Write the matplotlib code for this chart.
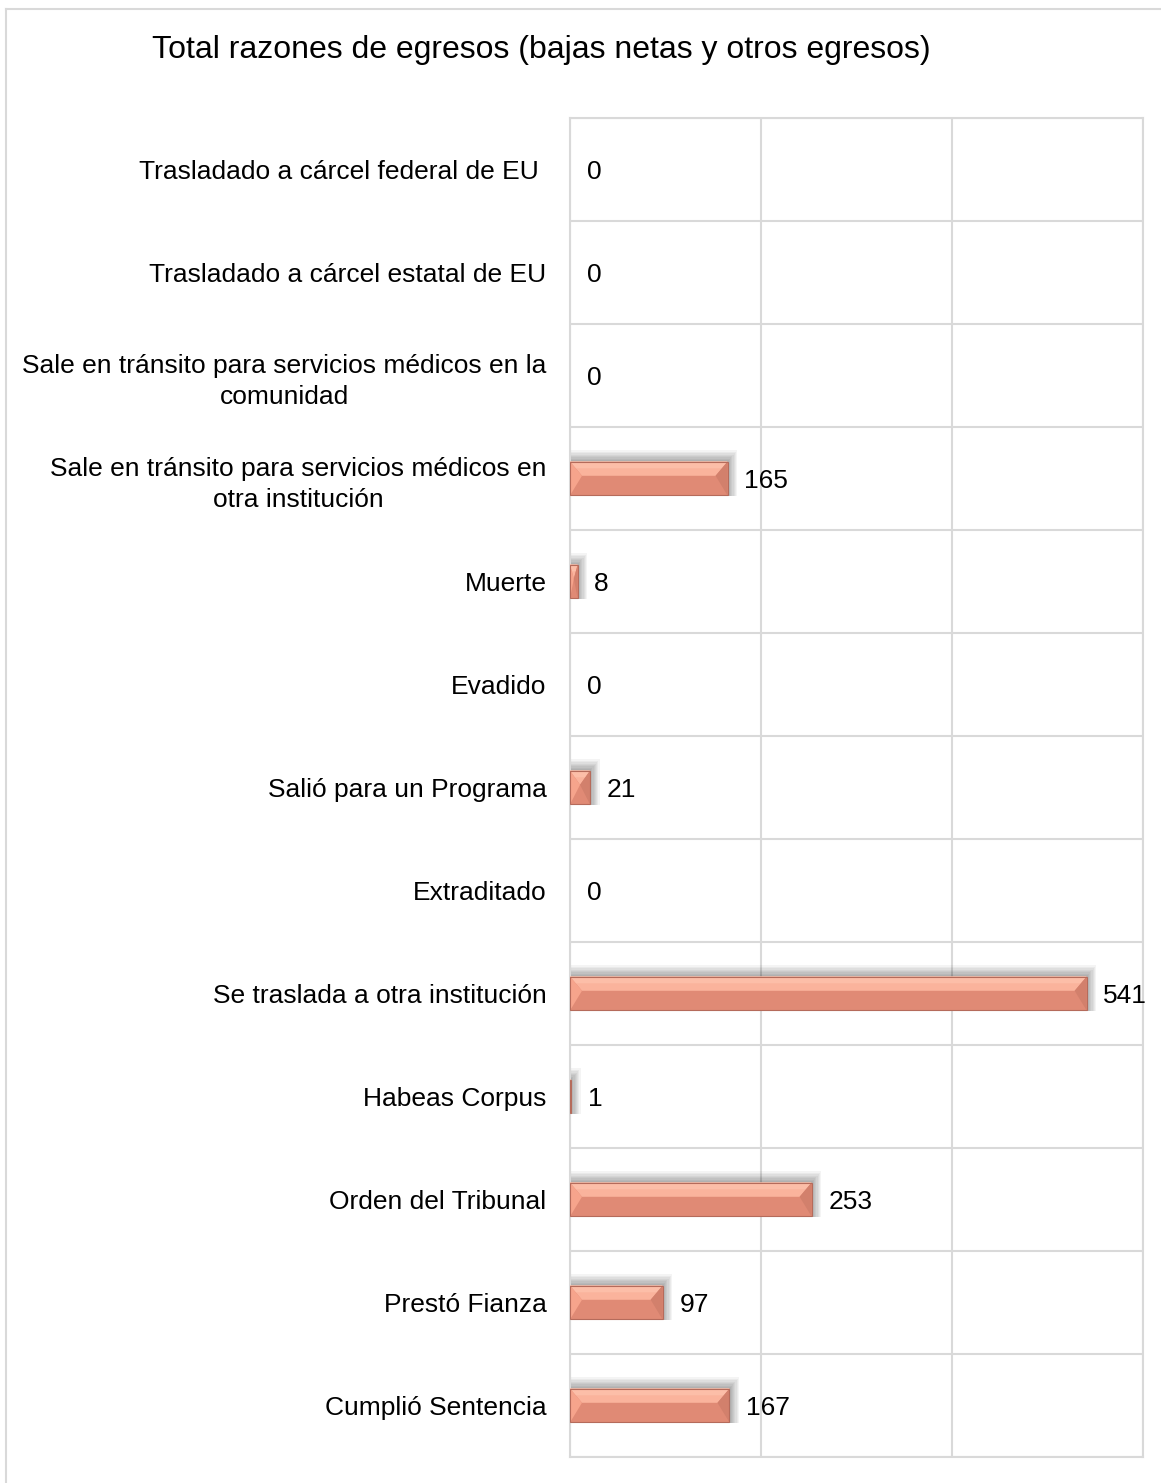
import numpy as np
import matplotlib.pyplot as plt
from matplotlib.patches import Polygon, Rectangle
from matplotlib.lines import Line2D

plt.rcParams['font.family'] = ['Liberation Sans', 'DejaVu Sans']

# data, top to bottom as in the chart
categories = [
    "Trasladado a cárcel federal de EU ",
    "Trasladado a cárcel estatal de EU",
    "Sale en tránsito para servicios médicos en la\ncomunidad",
    "Sale en tránsito para servicios médicos en\notra institución",
    "Muerte",
    "Evadido",
    "Salió para un Programa",
    "Extraditado",
    "Se traslada a otra institución",
    "Habeas Corpus",
    "Orden del Tribunal",
    "Prestó Fianza",
    "Cumplió Sentencia",
]
values = [0, 0, 0, 165, 8, 0, 21, 0, 541, 1, 253, 97, 167]
title = "Total razones de egresos (bajas netas y otros egresos)"

W, H, dpi = 1161, 1483, 100
fig = plt.figure(figsize=(W / dpi, H / dpi), dpi=dpi)
ax = fig.add_axes([570 / W, 1 - 1457 / H, (1143 - 570) / W, (1457 - 118) / H])

n = len(categories)
y = np.arange(n)
bar_h = 0.33
xmax = 600

ax.set_xlim(0, xmax)
ax.set_ylim(n - 0.5, -0.5)

# units per pixel, for bevel / shadow sizes
upx = xmax / (1143 - 570)
upy = n / (1457 - 118)

for yi, v in zip(y, values):
    if v <= 0:
        continue
    y0, y1 = yi - bar_h / 2, yi + bar_h / 2
    # soft shadow, pushed up and to the right
    for k in range(8, 0, -1):
        ax.add_patch(Rectangle((0, y0 - k * 1.4 * upy), v + k * 1.2 * upx,
                               bar_h + k * 1.5 * upy, color='#000000', alpha=0.045,
                               lw=0, zorder=2))
    bev = min(12 * upx, v / 2)
    ymid = yi - bar_h * 0.08
    # base (darker lower part)
    ax.barh(yi, v, height=bar_h, color='#E08A75', lw=0, zorder=3)
    # light top band
    ax.add_patch(Polygon([(0, y0), (v, y0), (v - bev, ymid), (bev, ymid)],
                         closed=True, color='#FAB39C', lw=0, zorder=4))
    ax.add_patch(Polygon([(0, y0), (v, y0), (v - bev * 0.5, y0 + bar_h * 0.2),
                          (bev * 0.5, y0 + bar_h * 0.2)],
                         closed=True, color='#FCBEA8', lw=0, zorder=4))
    # left bevel
    ax.add_patch(Polygon([(0, y0), (bev, ymid), (0, y1)],
                         closed=True, color='#F6A48C', lw=0, zorder=4))
    # right bevel
    ax.add_patch(Polygon([(v, y0), (v - bev, ymid), (v, y1)],
                         closed=True, color='#D2806C', lw=0, zorder=4))
    ax.add_patch(Rectangle((0, y0), v, bar_h, fill=False, edgecolor='#B56B5B',
                           lw=0.8, zorder=5))

# value labels
for yi, v in zip(y, values):
    ax.annotate(str(v), (v, yi), xytext=(12, 0), textcoords='offset points',
                ha='left', va='center_baseline', fontsize=19, color='black', zorder=6)

ax.set_yticks(y)
ax.set_yticklabels(categories, fontsize=19, multialignment='center', linespacing=1.35)
ax.set_xticks([0, 200, 400, 600])
ax.set_xticklabels([])
ax.set_yticks(np.arange(-0.5, n), minor=True)
ax.tick_params(axis='both', which='both', length=0)
ax.tick_params(axis='y', pad=17)
ax.grid(True, which='minor', axis='y', color='#D9D9D9', lw=1.5)
ax.grid(True, which='major', axis='x', color='#D9D9D9', lw=1.5)
ax.set_axisbelow(True)
for s in ax.spines.values():
    s.set_color('#D9D9D9')
    s.set_linewidth(1.5)

fig.text(541 / W, 1 - 50 / H, title, ha='center', va='center', fontsize=23)

# outer chart border
fig.add_artist(Line2D([5.5 / W, 5.5 / W], [0, 1 - 8.5 / H], color='#D9D9D9', lw=1.5))
fig.add_artist(Line2D([5.5 / W, 1], [1 - 8.5 / H, 1 - 8.5 / H], color='#D9D9D9', lw=1.5))

fig.savefig('out.png', dpi=dpi)
plt.close()
